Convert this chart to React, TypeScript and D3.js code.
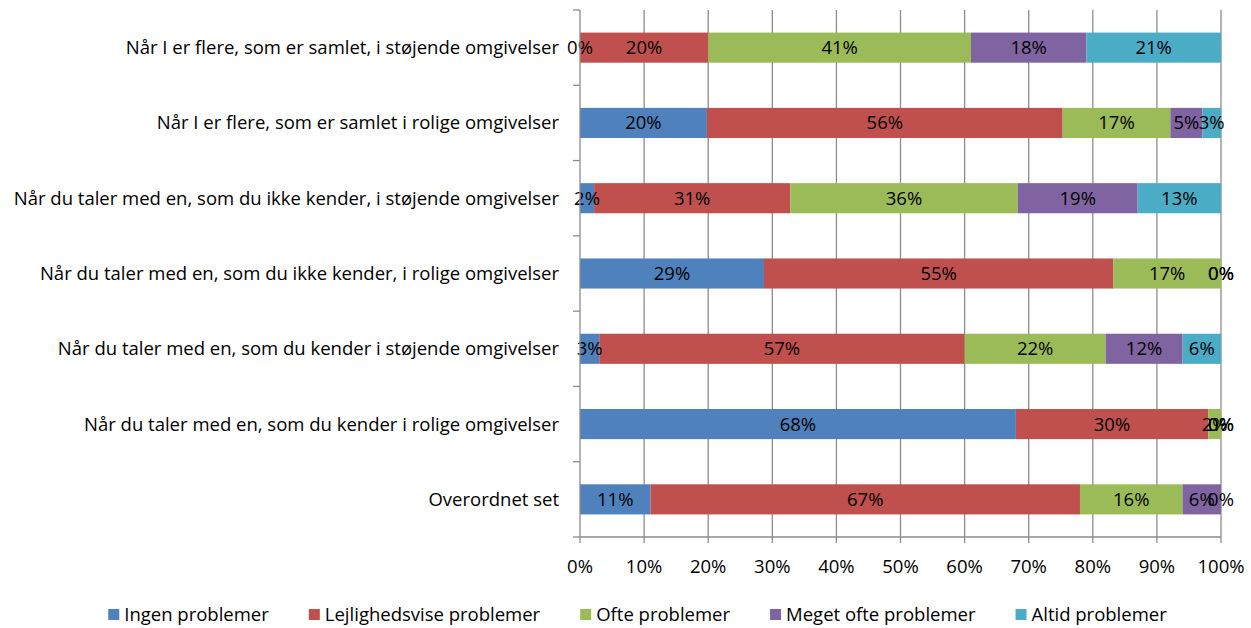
import React, { useEffect, useRef } from 'react';
import * as d3 from 'd3';

const categories = [
  'Når I er flere, som er samlet, i støjende omgivelser',
  'Når I er flere, som er samlet i rolige omgivelser',
  'Når du taler med en, som du ikke kender, i støjende omgivelser',
  'Når du taler med en, som du ikke kender, i rolige omgivelser',
  'Når du taler med en, som du kender i støjende omgivelser',
  'Når du taler med en, som du kender i rolige omgivelser',
  'Overordnet set',
];

const seriesNames = [
  'Ingen problemer',
  'Lejlighedsvise problemer',
  'Ofte problemer',
  'Meget ofte problemer',
  'Altid problemer',
];

const ingen = [0, 19.8, 2.2, 28.7, 3, 68, 11];
const lejlighedsvise = [20, 55.5, 30.6, 54.5, 57, 30, 67];
const ofte = [41, 16.8, 35.5, 16.8, 22, 2, 16];
const megetOfte = [18, 5.0, 18.7, 0, 12, 0, 6];
const altid = [21, 2.9, 13.0, 0, 6, 0, 0];

const xTicks = [0, 10, 20, 30, 40, 50, 60, 70, 80, 90, 100];

const colors = ['#4F81BD', '#C0504D', '#9BBB59', '#8064A2', '#4BACC6'];

const W = 1251;
const H = 628;
const FONT = '"Open Sans", "Noto Sans", sans-serif';
const FS = 18.5;

const App = () => {
  const svgRef = useRef<SVGSVGElement>(null);

  useEffect(() => {
    const svg = d3.select(svgRef.current);
    svg.selectAll('*').remove();

    const left = 580;
    const right = 1221;
    const top = 10;
    const bottom = 537;

    const rows = categories.map((c, i) => ({
      cat: c,
      vals: [ingen[i], lejlighedsvise[i], ofte[i], megetOfte[i], altid[i]],
    }));

    const x = d3.scaleLinear().domain([0, 100]).range([left, right]);
    const y = d3
      .scaleBand()
      .domain(categories)
      .range([top, bottom])
      .paddingInner(0.6)
      .paddingOuter(0.3);
    const band = (bottom - top) / categories.length;

    const grid = '#8C8C8C';

    // vertical gridlines
    svg
      .append('g')
      .selectAll('line')
      .data(xTicks.slice(1))
      .join('line')
      .attr('x1', d => x(d))
      .attr('x2', d => x(d))
      .attr('y1', top)
      .attr('y2', bottom + 6)
      .attr('stroke', grid)
      .attr('stroke-width', 1.3);

    // bars
    rows.forEach(r => {
      let acc = 0;
      const segs = r.vals.map((v, k) => {
        const s = { k, x0: acc, x1: acc + v, v };
        acc += v;
        return s;
      });
      const g = svg.append('g');
      g.selectAll('rect')
        .data(segs)
        .join('rect')
        .attr('x', d => x(d.x0))
        .attr('y', y(r.cat)!)
        .attr('width', d => Math.max(0, x(d.x1) - x(d.x0)))
        .attr('height', y.bandwidth())
        .attr('fill', d => colors[d.k]);
      g.selectAll('text')
        .data(segs)
        .join('text')
        .attr('x', d => (x(d.x0) + x(d.x1)) / 2)
        .attr('y', y(r.cat)! + y.bandwidth() / 2)
        .attr('dy', '0.35em')
        .attr('text-anchor', 'middle')
        .attr('font-family', FONT)
        .attr('font-size', FS)
        .attr('fill', '#000')
        .text(d => `${Math.round(d.v)}%`);
    });

    // y axis line and category ticks
    svg
      .append('line')
      .attr('x1', left)
      .attr('x2', left)
      .attr('y1', top)
      .attr('y2', bottom)
      .attr('stroke', grid)
      .attr('stroke-width', 1.3);
    svg
      .append('g')
      .selectAll('line')
      .data(d3.range(categories.length + 1))
      .join('line')
      .attr('x1', left - 7)
      .attr('x2', left)
      .attr('y1', i => top + i * band)
      .attr('y2', i => top + i * band)
      .attr('stroke', grid)
      .attr('stroke-width', 1.3);

    svg
      .append('g')
      .selectAll('text')
      .data(categories)
      .join('text')
      .attr('x', left - 21)
      .attr('y', d => y(d)! + y.bandwidth() / 2)
      .attr('dy', '0.35em')
      .attr('text-anchor', 'end')
      .attr('font-family', FONT)
      .attr('font-size', FS)
      .attr('fill', '#000')
      .text(d => d);

    // x axis
    svg
      .append('line')
      .attr('x1', left)
      .attr('x2', right)
      .attr('y1', bottom)
      .attr('y2', bottom)
      .attr('stroke', grid)
      .attr('stroke-width', 1.3);
    svg
      .append('line')
      .attr('x1', left)
      .attr('x2', left)
      .attr('y1', bottom)
      .attr('y2', bottom + 6)
      .attr('stroke', grid)
      .attr('stroke-width', 1.3);
    svg
      .append('g')
      .selectAll('text')
      .data(xTicks)
      .join('text')
      .attr('x', d => x(d))
      .attr('y', 567)
      .attr('dy', '0.35em')
      .attr('text-anchor', 'middle')
      .attr('font-family', FONT)
      .attr('font-size', FS)
      .attr('fill', '#000')
      .text(d => `${d}%`);

    // legend
    const lg = svg.append('g');
    const items = seriesNames.map((n, k) => {
      const it = lg.append('g');
      it.append('rect')
        .attr('width', 11)
        .attr('height', 11)
        .attr('y', -6)
        .attr('fill', colors[k]);
      const t = it
        .append('text')
        .attr('x', 16)
        .attr('dy', '0.35em')
        .attr('font-family', FONT)
        .attr('font-size', FS)
        .attr('fill', '#000')
        .text(n);
      const w = 16 + (t.node() as SVGTextElement).getComputedTextLength();
      return { it, w };
    });
    const gap = 40;
    const total = d3.sum(items, d => d.w) + gap * (items.length - 1);
    let cx = 637.5 - total / 2;
    items.forEach(({ it, w }) => {
      it.attr('transform', `translate(${cx},615)`);
      cx += w + gap;
    });
  }, []);

  return (
    <svg
      ref={svgRef}
      width={W}
      height={H}
      style={{ position: 'absolute', left: 0, top: 0, background: '#fff' }}
    />
  );
};

export default App;
